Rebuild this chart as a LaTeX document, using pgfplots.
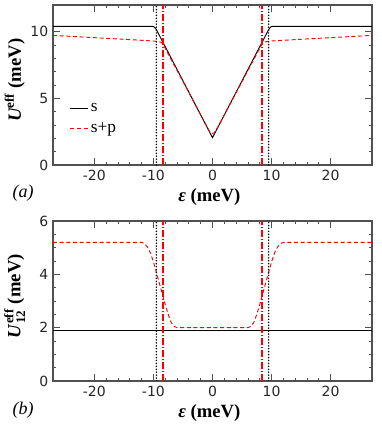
\documentclass[border=0pt]{standalone}
\usepackage{fontspec}
\setmainfont{Liberation Serif}
\newfontfamily\tickfont{DejaVu Sans}
\usepackage{amsmath}
\usepackage{pgfplots}
\pgfplotsset{compat=1.18}

\definecolor{axisgray}{RGB}{80,80,80}
\definecolor{sred}{RGB}{255,0,0}

\pgfplotsset{
  panel/.style={
    scale only axis, width=239.25pt, height=120pt,
    clip mode=individual,
    xmin=-27, xmax=27, xtick={-20,-10,0,10,20}, minor x tick num=4,
    tick align=inside, xtick pos=both, ytick pos=both,
    major tick length=5pt, minor tick length=2.5pt,
    axis line style={draw=axisgray, line width=0.8pt},
    tick style={draw=axisgray, line width=0.6pt},
    tick label style={font=\tickfont\fontsize{10.5}{12}\selectfont, text=black!85},
    /pgf/number format/assume math mode=true,
    label style={font=\fontsize{14}{16}\selectfont\bfseries},
    xlabel={{\itshape ε} (meV)},
    xlabel style={at={(axis description cs:0.49,-0.2)}, anchor=center},
    ylabel style={at={(axis description cs:-0.12,0.53)}, anchor=center},
  },
  sline/.style={black, line width=0.7pt},
  spline/.style={sred, line width=0.7pt, dash pattern=on 3pt off 2pt},
  vdot/.style={black, line width=1.3pt, line cap=round, dash pattern=on 0pt off 2.2pt},
  vdash/.style={sred, line width=1.4pt, dash pattern=on 5pt off 1.5pt on 1pt off 1.5pt},
}

\begin{document}
\begin{tikzpicture}
  \begin{axis}[panel, name=top,
    at={(39.75pt,201pt)}, anchor=south west,
    ymin=0, ymax=12, ytick={0,5,10}, minor y tick num=4,
    ylabel={{\itshape U}\textsuperscript{eff} (meV)},
    legend style={at={(axis description cs:0.04,0.42)}, anchor=north west,
      draw=none, fill=none, font=\fontsize{13}{15}\selectfont,
      row sep=3pt, legend cell align=left},
    legend image code/.code={\draw[#1] (0pt,0pt) -- (13pt,0pt);},
  ]
  \addplot[sline] coordinates {
    (-27,10.4) (-10.2,10.4) (-9.9,10.37) (-9.6,10.22) (-9.3,9.98)
    (0,2.05)
    (9.3,9.98) (9.6,10.22) (9.9,10.37) (10.2,10.4) (27,10.4)
  };
  \addlegendentry{s}
  \addplot[spline] coordinates {
    (-27,9.72) (-20,9.55) (-15,9.43) (-10,9.3) (-9,9.24) (-8.7,9.2) (-8.4,9.08)
    (-0.6,2.6) (-0.3,2.42) (0,2.36) (0.3,2.42) (0.6,2.6)
    (8.4,9.08) (8.7,9.2) (9,9.24) (10,9.3) (15,9.43) (20,9.55) (27,9.72)
  };
  \addlegendentry{s+p}
  \addplot[vdot, forget plot] coordinates {(-9.5,0) (-9.5,12)};
  \addplot[vdot, forget plot] coordinates {(9.5,0) (9.5,12)};
  \addplot[vdash, forget plot] coordinates {(-8.4,0) (-8.4,12)};
  \addplot[vdash, forget plot] coordinates {(8.4,0) (8.4,12)};
  \node[font=\fontsize{13.5}{15}\selectfont\itshape] at (axis description cs:-0.094,-0.175) {(a)};
  \end{axis}

  \begin{axis}[panel, name=bot,
    at={(39.75pt,39pt)}, anchor=south west,
    ymin=0, ymax=6, ytick={0,2,4,6}, minor y tick num=3,
    ylabel={$\textbf{\textit{U}}^{\textbf{eff}}_{\text{12}}$ (meV)},
  ]
  \addplot[sline] coordinates {(-27,1.9) (27,1.9)};
  \addplot[spline] coordinates {
    (-27,5.2) (-12,5.2) (-11.5,5.15) (-11,5.02) (-10.5,4.8) (-10,4.47)
    (-9.5,4.07) (-9,3.67) (-8.5,3.27) (-8,2.87) (-7.5,2.5) (-7,2.2)
    (-6.5,2.05) (-6,2.0)
    (6,2.0) (6.5,2.05) (7,2.2) (7.5,2.5) (8,2.87) (8.5,3.27) (9,3.67)
    (9.5,4.07) (10,4.47) (10.5,4.8) (11,5.02) (11.5,5.15) (12,5.2) (27,5.2)
  };
  \addplot[vdot] coordinates {(-9.5,0) (-9.5,6)};
  \addplot[vdot] coordinates {(9.5,0) (9.5,6)};
  \addplot[vdash] coordinates {(-8.4,0) (-8.4,6)};
  \addplot[vdash] coordinates {(8.4,0) (8.4,6)};
  \node[font=\fontsize{13.5}{15}\selectfont\itshape] at (axis description cs:-0.094,-0.18) {(b)};
  \end{axis}

  \pgfresetboundingbox
  \path[use as bounding box] (0,0) rectangle (286.5pt,324.75pt);
\end{tikzpicture}
\end{document}
